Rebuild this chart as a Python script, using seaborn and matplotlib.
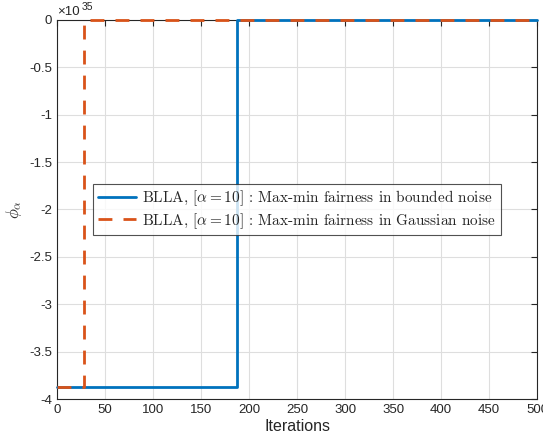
import numpy as np
import matplotlib
matplotlib.use("Agg")
import matplotlib.pyplot as plt
import pandas as pd
import seaborn as sns

# step curves (phi in absolute units)
scale = 1e35
iters_bounded = [0, 187, 187, 500]
phi_bounded = [-3.87e35, -3.87e35, 0, 0]
iters_gauss = [0, 28, 28, 500]
phi_gauss = [-3.87e35, -3.87e35, 0, 0]

lab_bounded = r"BLLA, $[\alpha = 10]$ : Max-min fairness in bounded noise"
lab_gauss = r"BLLA, $[\alpha = 10]$ : Max-min fairness in Gaussian noise"

sns.set_style("white")
plt.rcParams["font.family"] = ["Liberation Sans", "DejaVu Sans"]
plt.rcParams["mathtext.fontset"] = "cm"

fig = plt.figure(figsize=(5.43, 4.41), dpi=100)
ax = fig.add_axes([0.105, 0.095, 0.884, 0.86])

df1 = pd.DataFrame({"it": iters_bounded, "phi": np.array(phi_bounded) / scale})
df2 = pd.DataFrame({"it": iters_gauss, "phi": np.array(phi_gauss) / scale})

sns.lineplot(data=df1, x="it", y="phi", ax=ax, color="#0072BD", lw=2,
             estimator=None, sort=False, label=lab_bounded)
sns.lineplot(data=df2, x="it", y="phi", ax=ax, color="#D95319", lw=2,
             estimator=None, sort=False, label=lab_gauss, linestyle="--",
             dashes=False)
ax.lines[1].set_dashes([5, 4])
for i, ln in enumerate(ax.lines[:2]):
    ln.set_clip_on(False)
    ln.set_zorder(5 + i)

ax.set_xlim(0, 500)
ax.set_ylim(-4, 0)
ax.set_xticks(np.arange(0, 501, 50))
ax.set_yticks(np.arange(-4, 0.01, 0.5))
ax.set_yticklabels(["%g" % v for v in np.arange(-4, 0.01, 0.5)])
ax.grid(True, color="#dedede", lw=0.8)
ax.tick_params(direction="in", length=4, width=0.8, top=True, right=True,
               labelsize=9.5, colors="#262626")
for s in ax.spines.values():
    s.set_color("#262626")
    s.set_linewidth(0.8)
    s.set_visible(True)
    s.set_zorder(4)

ax.set_xlabel("Iterations", fontsize=11.5, color="#262626", labelpad=2)
ax.set_ylabel(r"$\phi_\alpha$", fontsize=12, color="#262626", labelpad=4)
ax.text(0.0, 1.004, "×10", transform=ax.transAxes,
        fontsize=9.5, color="#262626", ha="left", va="bottom")
ax.text(0.052, 1.022, "35", transform=ax.transAxes,
        fontsize=7.5, color="#262626", ha="left", va="bottom")

leg = ax.legend(loc="center", fontsize=11, frameon=True, fancybox=False,
                edgecolor="#262626", borderpad=0.3, labelspacing=0.2,
                handlelength=2.5, handletextpad=0.4, borderaxespad=0)
leg.get_frame().set_linewidth(0.8)
leg.set_zorder(10)
for t in leg.get_texts():
    t.set_family(["cmr10"])

fig.savefig("out.png", dpi=100)
